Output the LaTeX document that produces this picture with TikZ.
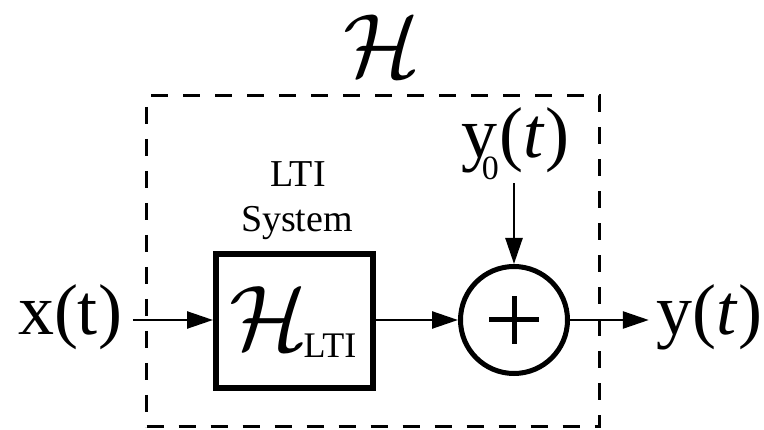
\documentclass[tikz,border=0pt]{standalone}
\usepackage{fontspec}
\usepackage{graphicx}
\setmainfont{Liberation Serif}
\usetikzlibrary{arrows.meta}
\tikzset{
  arr/.style={line width=2.5pt, -{Triangle[length=26pt,width=17pt]}},
  txt/.style={inner sep=0pt, outer sep=0pt, anchor=base},
  big/.style={font=\fontsize{72}{72}\selectfont},
  mid/.style={font=\fontsize{38}{38}\selectfont},
  frm/.style={draw, line width=3pt, dash pattern=on 17pt off 15pt, inner sep=0pt},
  blk/.style={draw, line width=6pt, inner sep=0pt},
  sumnode/.style={draw, circle, line width=5pt, inner sep=0pt}
}
\begin{document}
\begin{tikzpicture}[x=1pt,y=-1pt]
\useasboundingbox (0,0) rectangle (764,430);
% outer dashed frame
\node[frm, minimum width=453pt, minimum height=331pt] (frame) at (373,261.5) {};
% top label
\node[txt] (H) at (382,77) {\scalebox{9}{$\mathcal{H}$}};
% LTI block
\node[blk, minimum width=157pt, minimum height=134pt] (box) at (294.5,321) {};
\node[txt, anchor=base west] (hlti) at (229,350)
  {\scalebox{9.2}{$\mathcal{H}$}\kern-4pt\raisebox{-8pt}{\fontsize{36}{36}\selectfont LTI}};
\node[txt, mid] (lti) at (298,187) {LTI};
\node[txt, mid] (sys) at (297,232) {System};
% summing junction
\node[sumnode, minimum size=107pt] (sum) at (514,320) {};
\draw[line width=5pt] ([xshift=-25pt]sum.center) -- ([xshift=25pt]sum.center);
\draw[line width=5pt] ([yshift=-24pt]sum.center) -- ([yshift=24pt]sum.center);
% signals
\node[txt, big] (xt) at (70,335) {x(t)};
\node[txt, big] (yt) at (709.5,335) {y(\textit{t})};
\node[txt, big] (y0) at (515.5,158)
  {y\kern-16pt\raisebox{-22pt}{\fontsize{34}{34}\selectfont 0}\kern1pt(\textit{t})};
% connectors
\draw[arr] ([xshift=11pt]xt.east |- sum.west) -- (box.west |- sum.west);
\draw[arr] (box.east |- sum.west) -- (sum.west);
\draw[arr] (sum.east) -- ([xshift=-8pt]yt.west |- sum.east);
\draw[arr] ([yshift=-3pt]y0.south -| sum.north) -- (sum.north);
\end{tikzpicture}
\end{document}
